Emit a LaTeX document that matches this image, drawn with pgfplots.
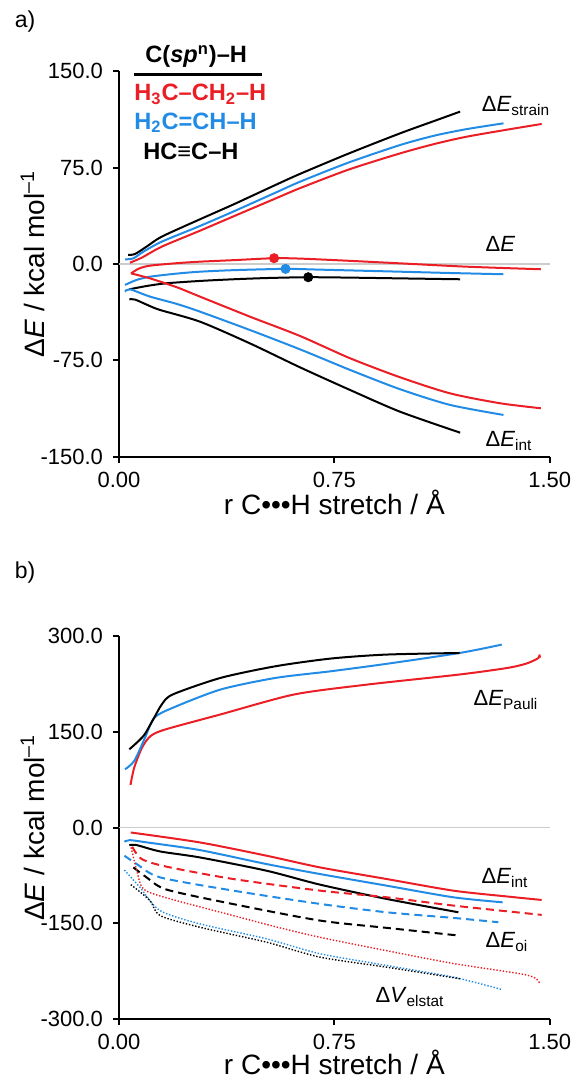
\documentclass[border=0pt]{standalone}
\usepackage{fontspec}
\setmainfont{Liberation Sans}
\usepackage{pgfplots}
\pgfplotsset{compat=1.18}

\definecolor{redc}{RGB}{234,30,36}
\definecolor{bluec}{RGB}{34,139,230}

\pgfplotsset{
  panel/.style={
    scale only axis,
    width=215.35pt,
    xmin=0, xmax=1.5,
    axis x line*=bottom, axis y line*=left,
    axis line style={line width=1pt},
    tick align=outside,
    major tick length=3pt,
    tick style={line width=1pt, black},
    xtick={0,0.75,1.5},
    xticklabels={0.00,0.75,1.50},
    ticklabel style={font=\fontsize{11}{13}\selectfont},
    yticklabel style={xshift=-1.5pt},
    xticklabel style={yshift=-1pt},
    xlabel={r C•••H stretch / Å},
    ylabel={Δ\textit{E} / kcal mol\textsuperscript{–1}},
    label style={font=\fontsize{14}{16}\selectfont},
    ylabel style={at={(axis description cs:-0.2,0.5)}, anchor=center},
    clip=false,
  },
  sol/.style={line width=1pt, smooth, tension=0.45},
  das/.style={line width=1pt, smooth, tension=0.45, dash pattern=on 4pt off 2.5pt},
  dot/.style={line width=0.7pt, smooth, tension=0.45, dash pattern=on 0.7pt off 0.9pt},
}

\newcommand{\clab}[2]{\fontsize{11}{13}\selectfont Δ\textit{#1}\textsubscript{#2}}

\begin{document}
\begin{tikzpicture}
\useasboundingbox (0,0) rectangle (288.5pt,539.5pt);

% panel a
\begin{axis}[panel,
  at={(59.5pt,311.15pt)}, anchor=south west,
  height=192.7pt,
  ymin=-150, ymax=150,
  ytick={-150,-75,0,75,150},
  yticklabels={-150.0,-75.0,0.0,75.0,150.0},
  xlabel style={at={(axis description cs:0.5,-0.118)}, anchor=center},
]
\addplot[gray!40, line width=0.7pt, forget plot] coordinates {(0,0) (1.5,0)};

% strain
\addplot[sol, redc] coordinates {
  (0.038,1.0) (0.08,5.0) (0.149,13.5) (0.282,25.9) (0.40,37.2) (0.54,50.5)
  (0.63,59.0) (0.80,73.5) (0.979,86.1) (1.10,93.5) (1.211,99.1) (1.35,104.5) (1.472,109.0)};
\addplot[sol, bluec] coordinates {
  (0.021,3.6) (0.050,4.4) (0.085,9.6) (0.149,17.4) (0.282,29.6) (0.40,41.0) (0.54,55.0)
  (0.63,64.0) (0.80,79.0) (0.979,92.6) (1.10,100.0) (1.211,105.0) (1.339,109.5)};
\addplot[sol, black] coordinates {
  (0.032,7.0) (0.056,7.8) (0.096,13.5) (0.149,21.3) (0.282,34.8) (0.40,46.5) (0.54,61.0)
  (0.63,70.1) (0.80,86.0) (0.979,101.7) (1.10,111.5) (1.188,118.6)};

% total
\addplot[sol, redc] coordinates {
  (0.042,-7.3) (0.07,-3.5) (0.108,-1.3) (0.20,0.6) (0.282,1.8) (0.40,3.0) (0.54,4.5)
  (0.63,4.2) (0.80,2.5) (0.979,0.5) (1.211,-2.1) (1.469,-4.1)};
\addplot[sol, bluec] coordinates {
  (0.021,-16.3) (0.06,-12.5) (0.108,-9.9) (0.20,-7.5) (0.282,-6.0) (0.40,-4.8) (0.58,-3.8)
  (0.70,-4.4) (0.979,-6.0) (1.15,-7.0) (1.339,-8.0)};
\addplot[sol, black] coordinates {
  (0.036,-19.7) (0.10,-17.0) (0.166,-15.0) (0.282,-13.2) (0.398,-11.9) (0.52,-10.9)
  (0.659,-10.3) (0.80,-10.6) (0.979,-11.2) (1.188,-11.9)};

% interaction
\addplot[sol, redc] coordinates {
  (0.042,-7.3) (0.108,-11.2) (0.20,-18.0) (0.282,-25.4) (0.456,-41.0) (0.630,-56.0)
  (0.805,-73.4) (0.979,-88.2) (1.153,-100.7) (1.327,-108.4) (1.469,-112.3)};
\addplot[sol, bluec] coordinates {
  (0.021,-21.5) (0.038,-19.7) (0.108,-25.4) (0.20,-31.0) (0.282,-37.1) (0.456,-51.4)
  (0.630,-66.4) (0.805,-82.5) (0.979,-97.5) (1.153,-109.7) (1.339,-117.5)};
\addplot[sol, black] coordinates {
  (0.036,-27.5) (0.056,-27.7) (0.10,-32.0) (0.143,-35.8) (0.282,-44.9) (0.456,-61.8)
  (0.630,-80.4) (0.805,-98.1) (0.979,-115.0) (1.188,-131.3)};

% maxima
\addplot[only marks, mark=*, mark size=2.3pt, redc] coordinates {(0.54,4.5)};
\addplot[only marks, mark=*, mark size=2.3pt, bluec] coordinates {(0.58,-3.8)};
\addplot[only marks, mark=*, mark size=2.3pt, black] coordinates {(0.659,-10.3)};
\end{axis}

% panel b
\begin{axis}[panel,
  at={(59.5pt,30pt)}, anchor=south west,
  height=191.5pt,
  ymin=-300, ymax=300,
  ytick={-300,-150,0,150,300},
  yticklabels={-300.0,-150.0,0.0,150.0,300.0},
  xlabel style={at={(axis description cs:0.5,-0.113)}, anchor=center},
]
\addplot[gray!40, line width=0.7pt, forget plot] coordinates {(0,0) (1.5,0)};

% Pauli
\addplot[sol, redc] coordinates {
  (0.040,66.7) (0.053,93.8) (0.08,125.0) (0.110,143.3) (0.162,153.7) (0.354,177.2)
  (0.610,208.4) (0.866,224.0) (1.186,239.7) (1.353,250.0) (1.42,257.0) (1.461,265.6)
  (1.464,271.0) (1.466,266.0)};
\addplot[sol, bluec] coordinates {
  (0.021,91.2) (0.053,104.2) (0.09,140.0) (0.123,171.9) (0.187,187.5) (0.354,216.2)
  (0.546,234.4) (0.738,244.8) (0.930,256.3) (1.186,273.4) (1.333,286.5)};
\addplot[sol, black] coordinates {
  (0.036,122.5) (0.085,143.3) (0.12,170.0) (0.149,192.8) (0.187,208.4) (0.354,234.4)
  (0.546,252.7) (0.738,264.7) (0.930,270.9) (1.186,273.4)};

% interaction
\addplot[sol, redc] coordinates {
  (0.041,-7.8) (0.282,-23.4) (0.514,-44.2) (0.700,-62.5) (0.932,-80.7) (1.164,-98.9)
  (1.35,-108.0) (1.472,-113.5)};
\addplot[sol, bluec] coordinates {
  (0.019,-22.3) (0.038,-19.8) (0.10,-23.5) (0.282,-35.4) (0.514,-57.3) (0.700,-72.9)
  (0.932,-91.1) (1.164,-109.3) (1.336,-117.2)};
\addplot[sol, black] coordinates {
  (0.036,-27.6) (0.062,-27.6) (0.143,-37.5) (0.282,-46.9) (0.514,-67.7) (0.700,-89.5)
  (0.932,-111.9) (1.182,-132.8)};

% orbital interaction
\addplot[das, redc] coordinates {
  (0.046,-30.2) (0.079,-49.4) (0.166,-61.4) (0.398,-80.7) (0.700,-98.9) (0.932,-109.3)
  (1.164,-122.3) (1.472,-136.9)};
\addplot[das, bluec] coordinates {
  (0.019,-44.2) (0.062,-57.3) (0.143,-78.1) (0.398,-98.9) (0.700,-119.7) (0.932,-132.8)
  (1.164,-141.6) (1.321,-148.4)};
\addplot[das, black] coordinates {
  (0.050,-62.5) (0.096,-78.1) (0.166,-97.3) (0.398,-120.0) (0.700,-145.8) (0.932,-157.2)
  (1.182,-169.2)};

% electrostatic
\addplot[dot, redc] coordinates {
  (0.042,-31.2) (0.062,-67.7) (0.085,-96.3) (0.166,-110.3) (0.398,-138.0) (0.550,-156.0)
  (0.700,-172.0) (0.932,-193.0) (1.164,-213.0) (1.397,-229.1) (1.45,-236.0) (1.466,-244.7)};
\addplot[dot, bluec] coordinates {
  (0.019,-66.6) (0.073,-93.8) (0.143,-130.2) (0.282,-151.0) (0.514,-174.4) (0.700,-197.8)
  (0.932,-216.1) (1.164,-234.4) (1.336,-254.1)};
\addplot[dot, black] coordinates {
  (0.041,-89.5) (0.108,-114.5) (0.143,-138.0) (0.282,-156.3) (0.514,-179.7) (0.700,-203.1)
  (0.932,-218.8) (1.188,-236.9)};
\end{axis}

% panel letters
\node[font=\fontsize{11.5}{13}\selectfont] at (12.5pt,528.5pt) {a)};
\node[font=\fontsize{11.5}{13}\selectfont] at (12.5pt,253pt) {b)};

% key
\node[anchor=base west, inner sep=0pt, font=\fontsize{11.8}{13}\bfseries] at (72.5pt,508pt) {C(\textit{sp}\textsuperscript{n})–H};
\draw[line width=1.5pt] (67pt,502pt) -- (131pt,502pt);
\node[anchor=base west, inner sep=0pt, font=\fontsize{11.8}{13}\bfseries, text=redc] at (67pt,489.2pt) {H\textsubscript{3}C–CH\textsubscript{2}–H};
\node[anchor=base west, inner sep=0pt, font=\fontsize{11.8}{13}\bfseries, text=bluec] at (67pt,474.8pt) {H\textsubscript{2}C=CH–H};
\node[anchor=base west, inner sep=0pt, font=\fontsize{11.8}{13}\bfseries] at (71.5pt,459.8pt) {HC≡C–H};

% curve labels
\node at (258pt,486.5pt) {\clab{E}{strain}};
\node at (250.5pt,416.5pt) {\clab{E}{}};
\node at (254.5pt,319pt) {\clab{E}{int}};
\node at (253pt,189.5pt) {\clab{E}{Pauli}};
\node at (252.5pt,100.5pt) {\clab{E}{int}};
\node at (253.5pt,68.5pt) {\clab{E}{oi}};
\node at (205pt,41pt) {\clab{V}{elstat}};
\end{tikzpicture}
\end{document}
